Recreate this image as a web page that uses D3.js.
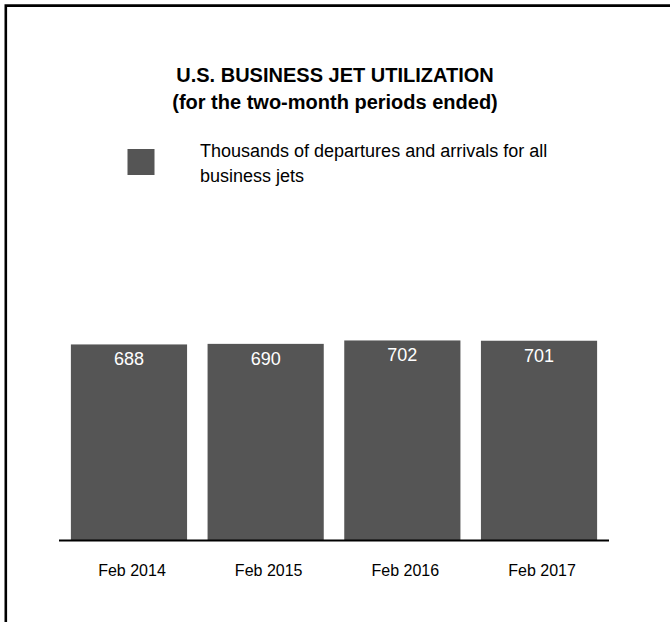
<!DOCTYPE html>
<html>
<head>
<meta charset="utf-8">
<script src="https://cdn.jsdelivr.net/npm/d3@7"></script>
<style>
  html, body { margin: 0; padding: 0; background: #fff; }
  svg { display: block; font-family: "Liberation Sans", Arial, Helvetica, sans-serif; }
</style>
</head>
<body>
<svg id="chart" width="670" height="622"></svg>
<script>
// Two-month periods ended in February
const periods = ["Feb 2014", "Feb 2015", "Feb 2016", "Feb 2017"];
// Thousands of departures and arrivals for all business jets
const departuresArrivals = [688, 690, 702, 701];
const titleLines = ["U.S. BUSINESS JET UTILIZATION", "(for the two-month periods ended)"];
const legendLines = ["Thousands of departures and arrivals for all", "business jets"];

const W = 670, H = 622;
const barColor = "#555555";
const svg = d3.select("#chart");

// Frame (top and left edges)
svg.append("path")
  .attr("d", `M5.8,${H + 5}V5.6H${W + 5}`)
  .attr("fill", "none")
  .attr("stroke", "#000")
  .attr("stroke-width", 2.6);

// Title
svg.append("g").selectAll("text").data(titleLines).join("text")
  .attr("x", 335)
  .attr("y", (d, i) => 82 + i * 27)
  .attr("text-anchor", "middle")
  .attr("font-size", 20)
  .attr("font-weight", "bold")
  .attr("fill", "#000")
  .text(d => d);

// Legend
svg.append("rect")
  .attr("x", 127.5).attr("y", 149)
  .attr("width", 27).attr("height", 26)
  .attr("fill", barColor);
svg.append("g").selectAll("text").data(legendLines).join("text")
  .attr("x", 200)
  .attr("y", (d, i) => 157 + i * 25)
  .attr("font-size", 18)
  .attr("fill", "#000")
  .text(d => d);

// Scales
const x = d3.scaleBand()
  .domain(periods)
  .range([59, 609])
  .paddingInner(0.15)
  .paddingOuter(0.087);

const y = d3.scaleLinear()
  .domain([0, 800])
  .range([540, 312.6]);

const data = periods.map((p, i) => ({ period: p, value: departuresArrivals[i] }));

// Bars
svg.append("g").selectAll("rect").data(data).join("rect")
  .attr("x", d => x(d.period))
  .attr("y", d => y(d.value))
  .attr("width", x.bandwidth())
  .attr("height", d => y(0) - y(d.value))
  .attr("fill", barColor);

// Value labels inside bars
svg.append("g").selectAll("text").data(data).join("text")
  .attr("x", d => x(d.period) + x.bandwidth() / 2)
  .attr("y", d => y(d.value) + 21)
  .attr("text-anchor", "middle")
  .attr("font-size", 18)
  .attr("fill", "#fff")
  .text(d => d.value);

// Category axis
const axis = svg.append("g")
  .attr("transform", `translate(0,${y(0)})`)
  .call(d3.axisBottom(x).tickSize(0).tickPadding(25));
axis.select(".domain")
  .attr("stroke", "#000")
  .attr("stroke-width", 2)
  .attr("d", `M59,0.5H609`);
axis.selectAll(".tick text")
  .attr("font-size", 16)
  .attr("font-family", "Liberation Sans, Arial, sans-serif")
  .attr("fill", "#000")
  .attr("dx", 3);
</script>
</body>
</html>
